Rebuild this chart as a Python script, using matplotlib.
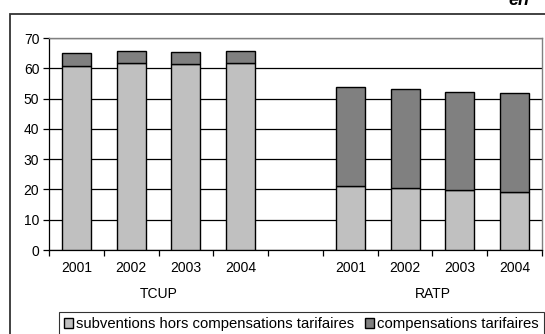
import matplotlib
matplotlib.use('Agg')
import numpy as np
from matplotlib import pyplot as plt
from matplotlib.patches import Rectangle

plt.rcParams['font.family'] = ['Liberation Sans', 'DejaVu Sans']

# data
groups = ['TCUP', 'RATP']
years = ['2001', '2002', '2003', '2004']
hors_compens = {'TCUP': [60.7, 61.7, 61.4, 61.9],
                'RATP': [21.1, 20.4, 19.7, 19.1]}
totals = {'TCUP': [64.9, 65.8, 65.3, 65.8],
          'RATP': [53.9, 53.0, 52.3, 51.9]}
legend_labels = ['subventions hors compensations tarifaires', 'compensations tarifaires']
light = '#c0c0c0'
dark = '#808080'

fig = plt.figure(figsize=(5.45, 3.34), dpi=100)
ax = fig.add_axes([49 / 545, 84 / 334, 493 / 545, 212 / 334])

# 9 slots: 4 bars, one empty slot, 4 bars
pos = {'TCUP': np.arange(4) + 0.5, 'RATP': np.arange(4) + 5.5}
for g in groups:
    low = np.array(hors_compens[g])
    top = np.array(totals[g]) - low
    ax.bar(pos[g], low, width=0.53, color=light, edgecolor='black', linewidth=1.0, zorder=3,
           label=legend_labels[0] if g == 'TCUP' else None)
    ax.bar(pos[g], top, bottom=low, width=0.53, color=dark, edgecolor='black', linewidth=1.0, zorder=3,
           label=legend_labels[1] if g == 'TCUP' else None)

ax.set_xlim(0, 9)
ax.set_ylim(0, 70)
ax.set_yticks(range(0, 71, 10))
ax.yaxis.grid(True, color='black', linewidth=0.9, zorder=0)
ax.set_axisbelow(True)

ax.set_xticks(range(0, 10))
ax.set_xticklabels([])
ax.tick_params(axis='x', direction='out', length=4, width=0.9, color='black')
ax.tick_params(axis='y', direction='out', length=4, width=0.9, color='black', labelsize=10, pad=3)

for g in groups:
    for x, y in zip(pos[g], years):
        ax.text(x, -6.0, y, ha='center', va='center', fontsize=10, clip_on=False)
    ax.text(pos[g].mean(), -14.4, g, ha='center', va='center', fontsize=10, clip_on=False)

for s in ['left', 'bottom']:
    ax.spines[s].set_color('black')
    ax.spines[s].set_linewidth(0.9)
for s in ['top', 'right']:
    ax.spines[s].set_color('#808080')
    ax.spines[s].set_linewidth(1.0)

leg = fig.legend(loc='upper left', bbox_to_anchor=(59 / 545, 1 - 312 / 334), ncol=2, fontsize=10.75,
                 frameon=True, fancybox=False, handlelength=0.6, handleheight=0.6,
                 handletextpad=0.2, columnspacing=0.75, borderpad=0.35, borderaxespad=0)
leg.get_frame().set_edgecolor('black')
leg.get_frame().set_linewidth(0.8)

# outer frame of the chart, cut by the image edge
fig.add_artist(Rectangle((10 / 545, -0.2), 1.2, 1.2 - 14 / 334, transform=fig.transFigure,
                         fill=False, edgecolor='#333333', linewidth=1.3, clip_on=False))
fig.text(508 / 545, 1 - 5 / 334, 'en', fontsize=13, style='italic', fontweight='bold',
         ha='left', va='baseline')

fig.savefig('out.png', dpi=100)
